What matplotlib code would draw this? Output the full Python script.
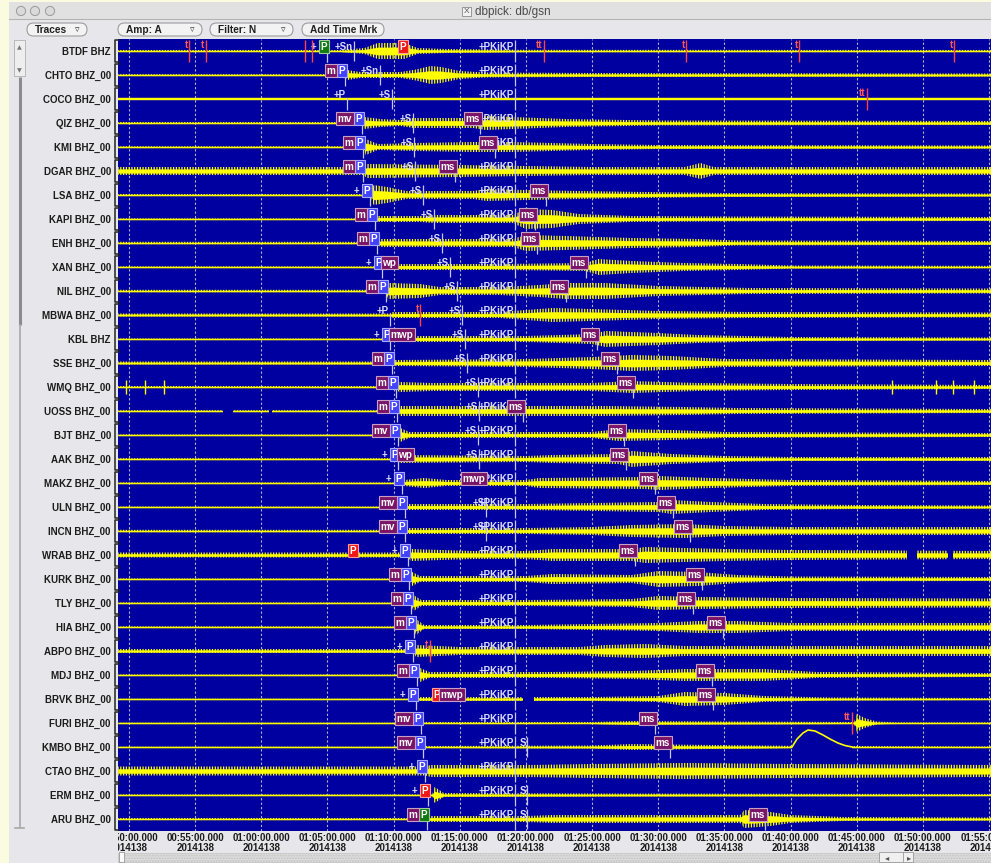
import numpy as np
import matplotlib.pyplot as plt
from matplotlib.patches import Rectangle, Circle, FancyBboxPatch
from matplotlib.transforms import Bbox, TransformedBbox, IdentityTransform

plt.rcParams['font.family'] = ['Liberation Sans', 'DejaVu Sans']
plt.rcParams['hatch.color'] = '#ffff00'
plt.rcParams['hatch.linewidth'] = 0.9

# times are minutes after 00:00 on day 2014138
stations = ['BTDF BHZ', 'CHTO BHZ_00', 'COCO BHZ_00', 'QIZ BHZ_00', 'KMI BHZ_00',
            'DGAR BHZ_00', 'LSA BHZ_00', 'KAPI BHZ_00', 'ENH BHZ_00', 'XAN BHZ_00',
            'NIL BHZ_00', 'MBWA BHZ_00', 'KBL BHZ', 'SSE BHZ_00', 'WMQ BHZ_00',
            'UOSS BHZ_00', 'BJT BHZ_00', 'AAK BHZ_00', 'MAKZ BHZ_00', 'ULN BHZ_00',
            'INCN BHZ_00', 'WRAB BHZ_00', 'KURK BHZ_00', 'TLY BHZ_00', 'HIA BHZ_00',
            'ABPO BHZ_00', 'MDJ BHZ_00', 'BRVK BHZ_00', 'FURI BHZ_00', 'KMBO BHZ_00',
            'CTAO BHZ_00', 'ERM BHZ_00', 'ARU BHZ_00']

# trace envelopes: (time, half amplitude in screen px)
envelopes = [
    [(49.17, 1), (66.0, 1), (67.8, 3), (68.8, 8), (70.8, 8), (71.8, 3), (74, 2), (80, 1.2), (115.2, 1)],
    [(49.17, .8), (66.3, .8), (66.5, 5), (67.5, 3), (70.5, 3), (71.5, 5), (72.8, 9), (73.6, 8), (75, 4), (77, 2.5), (85, 2), (115.2, 1.5)],
    [(49.17, .8), (115.2, .8)],
    [(49.17, 1), (67.6, 1), (67.8, 6), (69, 4), (70.5, 3), (71.5, 5), (76, 5), (77, 7), (79, 6), (83, 4), (90, 2.5), (115.2, 2)],
    [(49.17, .7), (67.7, .7), (67.9, 8), (68.8, 3), (71.5, 4), (76, 5), (79, 5), (85, 3), (90, 2), (115.2, 1.5)],
    [(49.17, 4), (67.7, 4), (68.0, 7), (75, 6), (80, 5), (85, 4), (92, 4), (93.2, 8), (94.2, 4), (115.2, 4)],
    [(49.17, 1), (68.2, 1), (68.5, 10), (69.5, 8), (71, 4), (76, 4), (77, 6), (80, 5), (84, 4), (89, 3), (95, 2), (115.2, 1.5)],
    [(49.17, .6), (68.6, .6), (68.8, 3), (72, 3), (73, 4), (79, 4), (80, 10), (82, 9), (84, 5), (88, 3), (95, 2.5), (115.2, 2)],
    [(49.17, 1.2), (68.75, 1.2), (69.0, 4), (79, 4), (80, 8), (83, 7), (88, 5), (93, 4), (96, 2.5), (115.2, 2)],
    [(49.17, .6), (69.1, .6), (69.3, 3), (78, 3), (84.5, 4), (85.5, 8), (88, 6), (92, 4), (96, 3), (100, 1.5), (115.2, 1.2)],
    [(49.17, 1.2), (69.4, 1.2), (69.6, 8), (72, 7), (73.5, 4), (78, 4), (81, 6), (83, 8), (86, 8), (90, 5), (97, 3), (115.2, 2.5)],
    [(49.17, 1.5), (69.7, 1.5), (69.9, 3), (78, 3), (80, 5), (82, 7), (85, 6), (90, 4), (97, 3), (115.2, 2.5)],
    [(49.17, .5), (69.7, .5), (69.9, 3), (80, 3), (85, 5), (86, 8), (90, 6), (93, 4), (100, 2), (115.2, 1.5)],
    [(49.17, 1.5), (69.9, 1.5), (70.1, 3), (80, 4), (85, 6), (88, 8), (91, 7), (95, 4), (115.2, 3)],
    [(49.17, 1), (70.2, 1), (70.4, 5), (73, 4), (80, 4), (85, 4), (88, 6), (93, 4), (100, 3), (115.2, 2)],
    [(49.17, .8), (70.3, .8), (70.5, 5), (75, 5), (80, 5), (86, 5), (92, 4), (96, 3), (115.2, 2)],
    [(49.17, .5), (70.3, .5), (70.5, 7), (71.2, 3), (80, 3), (85, 3), (87, 6), (91, 5), (95, 3), (115.2, 2)],
    [(49.17, .8), (70.3, .8), (70.5, 4), (80, 3), (82, 4), (87, 5), (88, 8), (91, 5), (95, 3), (100, 2), (115.2, 2)],
    [(49.17, .5), (70.6, .5), (70.8, 3), (72.3, 5), (74, 3), (80, 3), (81, 5), (89, 6), (90, 7), (94, 5), (100, 3), (115.2, 2)],
    [(49.17, .4), (70.9, .4), (71.1, 3), (80, 3), (85, 4), (90, 5), (91, 7), (94, 5), (98, 3), (105, 2), (115.2, 1.5)],
    [(49.17, 1.2), (70.9, 1.2), (71.1, 3), (80, 3), (85, 4), (88, 6), (92, 7), (95, 5), (100, 4), (115.2, 4)],
    [(49.17, 2.5), (71.1, 2.5), (71.3, 6), (76, 4), (80, 4), (82, 6), (88, 6), (89, 8), (95, 6), (100, 5), (115.2, 4)],
    [(49.17, .5), (71.2, .5), (71.4, 7), (72, 3), (80, 3), (82, 5), (88, 4), (90, 8), (93, 7), (96, 4), (100, 2.5), (115.2, 2)],
    [(49.17, .5), (71.3, .5), (71.5, 8), (72.1, 3), (80, 3), (88, 4), (90, 7), (93, 6), (100, 5), (115.2, 4.5)],
    [(49.17, .6), (71.5, .6), (71.7, 8), (72.3, 2), (80, 2), (85, 3), (90, 4), (93, 6), (96, 6), (100, 4), (115.2, 4)],
    [(49.17, 2), (71.5, 2), (71.7, 6), (75, 4), (84, 4), (86, 6), (89, 7), (92, 5), (115.2, 5)],
    [(49.17, .5), (71.8, .5), (72.0, 7), (72.7, 3), (82, 3), (88, 4), (92, 6), (98, 6), (102, 3), (115.2, 2)],
    [(49.17, .3), (71.7, .3), (71.9, 2), (81, 2), (85, 2), (90, 3), (92, 7), (95, 6), (98, 3), (103, 1.5), (115.2, 1)],
    [(49.17, .3), (72.1, .3), (72.3, 1), (85, 1), (88, 2), (95, 1.5), (104.8, 1), (105.0, 9), (105.6, 5), (106.5, 1.5), (108, .6), (115.2, .6)],
    [(49.17, .3), (72.2, .3), (72.4, 1), (85, 1.5), (88, 3), (94, 2), (100, 1.2), (115.2, .5)],
    [(49.17, 4.5), (72.4, 4.5), (72.8, 6), (80, 6), (85, 7), (92, 8), (100, 7), (115.2, 6)],
    [(49.17, .6), (72.9, .6), (73.1, 8), (73.8, 2), (85, 1.5), (115.2, 1)],
    [(49.17, 1), (72.5, 1), (72.8, 3), (80, 3), (82, 4), (95, 4), (96.2, 4), (96.5, 9), (98.5, 7), (100, 4), (104, 2), (115.2, 1.5)],
]

# data gaps (row, start, end)
gaps = [(15, 57.1, 57.86), (15, 60.58, 60.81), (21, 108.8, 109.56), (21, 111.9, 112.28),
        (27, 79.78, 80.61), (29, 100.11, 104.65)]

# long-period bump on KMBO (time, px above baseline)
bump_t = [100.11, 100.49, 100.94, 101.32, 101.85, 102.45, 102.98, 103.58, 104.11, 104.65]
bump_px = [0, 8, 14, 17, 16, 12, 8, 4, 1.5, 0]

# glitches on WMQ
spike_t = [49.77, 51.21, 52.65, 107.67, 111.0, 112.28, 113.87]

# picks
p_time = [64.97, 66.33, 66.5, 67.61, 67.69, 67.69, 68.22, 68.6, 68.75, 69.12, 69.42, 69.73,
          69.73, 69.88, 70.18, 70.26, 70.33, 70.33, 70.63, 70.86, 70.86, 71.09, 71.16, 71.31,
          71.54, 71.47, 71.77, 71.69, 72.07, 72.22, 72.37, 72.6, 72.52]
p_kind = ['g', 'b', 'w', 'b', 'b', 'b', 'b', 'b', 'b', 'b', 'b', 'w', 'b', 'b', 'b', 'b', 'b',
          'b', 'b', 'b', 'b', 'b', 'b', 'b', 'b', 'b', 'b', 'b', 'b', 'b', 'b', 'r', 'g']
mag_left = ['+', 'm', '', 'mv', 'm', 'm', '+', 'm', 'm', '+', 'm', '', '+', 'm', 'm', 'm', 'mv',
            '+', '+', 'mv', 'mv', '+', 'm', 'm', 'm', '+', 'm', '+', 'mv', 'mv', '+', '+', 'm']
mag_right = {9: 'wp', 12: 'mwp', 17: 'wp'}
ms_time = [None, None, None, 76.53, 77.66, 74.64, 81.52, 80.69, 80.84, 84.54, 83.03, None, 85.37,
           86.88, 88.10, 79.78, 87.41, 87.57, 89.76, 91.12, 92.4, 88.25, 93.31, 92.63, 94.9, None,
           94.07, 94.14, 89.76, 90.89, None, None, 98.07]
s_label = ['+Sn', '+Sn', '+S', '+S', '+S', '+S', '+S', '+S', '+S', '+S', '+S', '+S', '+S', '+S',
           '+S', '+S', '+S', '+S', '', '+S', '+S', '', '', '', '', '', '', '', '', 'S', '', 'S', 'S']
s_time = [67.0, 68.97, 69.88, 71.47, 71.54, 71.62, 72.22, 73.05, 73.66, 74.26, 74.79, 75.17, 75.4,
          75.55, 76.38, 76.45, 76.38, 76.45, None, 77.0, 77.0, None, None, None, None, None, None,
          None, None, 80.1, None, 80.1, 80.1]
pkikp_time = 79.2
extra_boxes = [(0, 70.94, 'P', 'r'), (21, 67.16, 'P', 'r'), (18, 76.91, 'mwp', 'm'),
               (27, 73.5, 'P', 'r'), (27, 75.25, 'mwp', 'm')]
t_marks = [(0, 54.54, 't'), (0, 55.82, 't'), (0, 63.3, ''), (0, 63.83, ''), (0, 81.37, 'tt'),
           (0, 92.1, 't'), (0, 100.64, 't'), (0, 112.36, 't'), (2, 105.78, 'tt'),
           (11, 72.0, 't'), (25, 72.75, 't'), (28, 104.65, 'tt')]
tick_min = [50, 55, 60, 65, 70, 75, 80, 85, 90, 95, 100, 105, 110, 115]

W, H = 991, 863
PX = 24.0  # screen px per trace row
yellow = '#ffff00'
pick_col = '#c4c4ff'
box_fc = {'b': '#4343ff', 'g': '#117a11', 'r': '#ee1818', 'm': '#7a1468'}
box_ec = {'b': '#a8a8ff', 'g': '#9ccc9c', 'r': '#ff9c9c', 'm': '#c8a0c4'}

fig = plt.figure(figsize=(W / 100, H / 100), dpi=100, facecolor='#fbfbdf')

# window chrome in pixel coordinates
ui = fig.add_axes([0, 0, 1, 1], zorder=0)
ui.set_xlim(0, W)
ui.set_ylim(H, 0)
ui.axis('off')
ui.add_patch(Rectangle((9, 2), W - 9, H - 2, fc='#e7e7eb', ec='none'))
ui.add_patch(Rectangle((9, 2), W - 9, 17, fc='#e1e1e1', ec='none'))
ui.plot([9, W], [19, 19], color='#b4b4b4', lw=0.8)
for cx in (21, 35, 50):
    ui.add_patch(Circle((cx, 11), 4.6, fc='#dadada', ec='#9a9a9a', lw=0.7))
ui.add_patch(Rectangle((462, 7), 9, 9, fc='#f2f2f2', ec='#8a8a8a', lw=0.6))
ui.text(466.5, 11.5, 'X', fontsize=6, ha='center', va='center', color='#555555')
ui.text(475, 11.5, 'dbpick: db/gsn', fontsize=8.5, ha='left', va='center', color='#4a4a4a')

buttons = [(27, 87, 'Traces', True), (118, 202, 'Amp: A', True),
           (210, 293, 'Filter: N', True), (302, 384, 'Add Time Mrk', False)]
for x0, x1, lab, arrow in buttons:
    ui.add_patch(FancyBboxPatch((x0, 23), x1 - x0, 13,
                                boxstyle='round,pad=0,rounding_size=6.5',
                                fc='#f3f3f3', ec='#9c9c9c', lw=0.8))
    ui.text(x0 + 8, 29.8, lab, fontsize=7.3, fontweight='bold', ha='left', va='center',
            color='#202020')
    if arrow:
        ui.text(x1 - 10, 29.5, '\u25bf', fontsize=6.5, ha='center', va='center',
                color='#333333', family='DejaVu Sans')

# left scroll bar
ui.add_patch(Rectangle((14, 40), 11, 36, fc='#eeeeee', ec='#b0b0b0', lw=0.6))
ui.text(19.5, 48, '\u25b2', fontsize=4.5, ha='center', va='center', color='#777777',
        family='DejaVu Sans')
ui.text(19.5, 71, '\u25bc', fontsize=4.5, ha='center', va='center', color='#777777',
        family='DejaVu Sans')
ui.plot([19.5, 19.5], [77, 325], color='#8c8c8c', lw=2.2, solid_capstyle='butt')
ui.plot([19.5, 19.5], [325, 827], color='#a8a8a8', lw=1.2)
ui.plot([15, 24], [828, 828], color='#a8a8a8', lw=1.2)

# bottom scroll bar
ui.add_patch(Rectangle((118, 853), W - 118, 9, fc='#dcdcdc', ec='#c4c4c4', lw=0.5,
                       hatch='......'))
ui.add_patch(Rectangle((119, 852), 5, 10, fc='#fafafa', ec='#9a9a9a', lw=0.6))
ui.add_patch(Rectangle((879, 852), 34, 10, fc='#f0f0f0', ec='#9a9a9a', lw=0.6))
ui.plot([903, 903], [852, 862], color='#9a9a9a', lw=0.6)
ui.text(887, 857.5, '\u25c2', fontsize=6, ha='center', va='center', color='#555555',
        family='DejaVu Sans')
ui.text(909, 857.5, '\u25b8', fontsize=6, ha='center', va='center', color='#555555',
        family='DejaVu Sans')

# trace panel
ax = fig.add_axes([118 / W, 32 / H, (W - 118) / W, 792 / H], zorder=1)
ax.set_facecolor('#0000a0')
ax.set_xlim(49.17, 115.15)
ax.set_ylim(len(stations) - 0.5, -0.5)
for sp in ax.spines.values():
    sp.set_visible(False)

ax.set_yticks(range(len(stations)), stations)
ax.tick_params(axis='y', length=0, pad=5.2, labelsize=7, labelcolor='#1c1c1c')
for lbl in ax.get_yticklabels():
    lbl.set_fontweight('bold')

tick_lab = ['%02d:%02d:00.000\n2014138' % (m // 60, m % 60) for m in tick_min]
ax.set_xticks(tick_min, tick_lab)
ax.tick_params(axis='x', length=0, pad=1.5, labelsize=7, labelcolor='#1c1c1c')
clip = TransformedBbox(Bbox.from_extents(118, 0, W, H), IdentityTransform())
for lbl in ax.get_xticklabels():
    lbl.set_fontweight('bold')
    lbl.set_linespacing(0.95)
    lbl.set_clip_box(clip)
    lbl.set_clip_on(True)
ax.set_axisbelow(True)
ax.grid(axis='x', color='#b4b4cc', lw=0.8, linestyle=(0, (2, 2)))

# bracket beside each trace
yax = ax.get_yaxis_transform()
bx0, bx1 = -3.5 / (W - 118), 0.5 / (W - 118)
for i in range(len(stations)):
    ax.plot([bx1, bx0, bx0, bx1], [i - 0.45, i - 0.45, i + 0.45, i + 0.45], transform=yax,
            clip_on=False, color='#222222', lw=1.1)

# traces
for i, env in enumerate(envelopes):
    t = [p[0] for p in env]
    a = np.array([p[1] for p in env]) / PX
    core = np.maximum(a * 0.45, 0.55 / PX)
    ax.fill_between(t, i - a, i + a, facecolor='none', edgecolor=yellow, hatch='||||||',
                    lw=0, zorder=2)
    ax.fill_between(t, i - core, i + core, color=yellow, lw=0.3, zorder=2)

for row, g0, g1 in gaps:
    ax.fill_between([g0, g1], row - 0.42, row + 0.42, color='#0000a0', lw=0, zorder=2.5)

ax.plot(bump_t, 29 - np.array(bump_px) / PX, color=yellow, lw=1.2, zorder=3)
ax.vlines(spike_t, 14 - 0.28, 14 + 0.28, color=yellow, lw=1.0, zorder=3)


def box(row, t, text, kind, ha='right', dx=0.0):
    ax.annotate(text, (t, row), xytext=(dx, 3), textcoords='offset points', ha=ha,
                va='center', fontsize=7.2, fontweight='bold', color='white', zorder=6,
                bbox=dict(boxstyle='square,pad=0.16', fc=box_fc[kind], ec=box_ec[kind],
                          lw=0.8), annotation_clip=False)


def phase_text(row, t, text, dx=0.0):
    ax.annotate(text, (t, row), xytext=(dx, 3), textcoords='offset points', ha='right',
                va='center', fontsize=7, fontweight='bold', color='#dadaff', zorder=5)


for i in range(len(stations)):
    # PKiKP
    ax.vlines(pkikp_time, i - 0.45, i + 0.45, color=pick_col, lw=0.9, zorder=4)
    phase_text(i, pkikp_time, '+PKiKP', dx=-1)
    # S
    if s_time[i] is not None:
        ax.vlines(s_time[i], i - 0.4, i + 0.42, color=pick_col, lw=0.9, zorder=4)
        phase_text(i, s_time[i], s_label[i], dx=-1)
    # P
    ax.vlines(p_time[i], i - 0.05, i + 0.45, color=pick_col, lw=0.9, zorder=4)
    if p_kind[i] == 'w':
        phase_text(i, p_time[i], '+P', dx=-1)
    else:
        box(i, p_time[i], 'P', p_kind[i])
        if mag_left[i] == '+':
            phase_text(i, p_time[i], '+', dx=-7.6)
        elif mag_left[i]:
            box(i, p_time[i], mag_left[i], 'm', dx=-7.0)
    if i in mag_right:
        box(i, p_time[i], mag_right[i], 'm', ha='left', dx=0.3)
    # surface waves
    if ms_time[i] is not None:
        ax.vlines(ms_time[i], i, i + 0.45, color=pick_col, lw=0.9, zorder=4)
        box(i, ms_time[i], 'ms', 'm')

for row, t, text, kind in extra_boxes:
    box(row, t, text, kind)

for row, t, text in t_marks:
    ax.vlines(t, row - 0.45, row + 0.45, color='#ff4646', lw=1.0, zorder=5)
    if text:
        ax.annotate(text, (t, row), xytext=(-1, 4), textcoords='offset points', ha='right',
                    va='center', fontsize=7, fontweight='bold', color='#ff5a5a', zorder=5)

fig.savefig('out.png', dpi=100, facecolor=fig.get_facecolor())
